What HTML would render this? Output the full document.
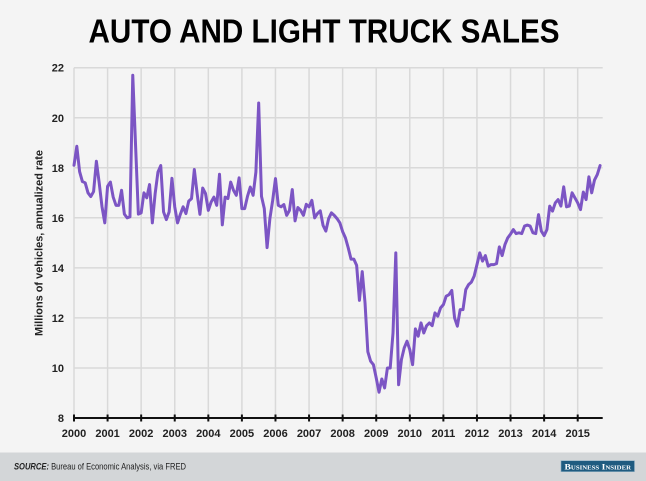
<!DOCTYPE html>
<html>
<head>
<meta charset="utf-8">
<style>
  html,body{margin:0;padding:0;background:#f4f4f4;}
  body{width:646px;height:481px;overflow:hidden;}
  svg{display:block;}
  text{font-family:"Liberation Sans",sans-serif;}
</style>
</head>
<body>
<svg width="646" height="481" viewBox="0 0 646 481" xmlns="http://www.w3.org/2000/svg">
  <rect x="0" y="0" width="646" height="481" fill="#f4f4f4"/>

  <!-- Title -->
  <text x="88.5" y="42.3" font-size="33.5" font-weight="bold" fill="#000" textLength="471" lengthAdjust="spacingAndGlyphs">AUTO AND LIGHT TRUCK SALES</text>

  <!-- Horizontal gridlines -->
  <g stroke="#d9d9d9" stroke-width="1.5">
    <line x1="74" y1="67.7" x2="602.7" y2="67.7"/>
    <line x1="74" y1="117.8" x2="602.7" y2="117.8"/>
    <line x1="74" y1="167.8" x2="602.7" y2="167.8"/>
    <line x1="74" y1="217.8" x2="602.7" y2="217.8"/>
    <line x1="74" y1="267.9" x2="602.7" y2="267.9"/>
    <line x1="74" y1="317.9" x2="602.7" y2="317.9"/>
    <line x1="74" y1="368" x2="602.7" y2="368"/>
  </g>
  <!-- Vertical gridlines -->
  <g stroke="#d9d9d9" stroke-width="1.5">
    <line x1="74" y1="67.7" x2="74" y2="418"/>
    <line x1="107.58" y1="67.7" x2="107.58" y2="418"/>
    <line x1="141.16" y1="67.7" x2="141.16" y2="418"/>
    <line x1="174.74" y1="67.7" x2="174.74" y2="418"/>
    <line x1="208.32" y1="67.7" x2="208.32" y2="418"/>
    <line x1="241.9" y1="67.7" x2="241.9" y2="418"/>
    <line x1="275.48" y1="67.7" x2="275.48" y2="418"/>
    <line x1="309.06" y1="67.7" x2="309.06" y2="418"/>
    <line x1="342.64" y1="67.7" x2="342.64" y2="418"/>
    <line x1="376.22" y1="67.7" x2="376.22" y2="418"/>
    <line x1="409.8" y1="67.7" x2="409.8" y2="418"/>
    <line x1="443.38" y1="67.7" x2="443.38" y2="418"/>
    <line x1="476.96" y1="67.7" x2="476.96" y2="418"/>
    <line x1="510.54" y1="67.7" x2="510.54" y2="418"/>
    <line x1="544.12" y1="67.7" x2="544.12" y2="418"/>
    <line x1="577.7" y1="67.7" x2="577.7" y2="418"/>
  </g>

  <!-- Y tick labels -->
  <g font-size="11" font-weight="bold" fill="#222" text-anchor="end">
    <text x="64" y="71.7">22</text>
    <text x="64" y="121.8">20</text>
    <text x="64" y="171.8">18</text>
    <text x="64" y="221.8">16</text>
    <text x="64" y="271.9">14</text>
    <text x="64" y="321.9">12</text>
    <text x="64" y="372">10</text>
    <text x="64" y="422">8</text>
  </g>

  <!-- Y axis title -->
  <text transform="translate(42.5,243) rotate(-90)" font-size="11" font-weight="bold" fill="#222" text-anchor="middle" textLength="186" lengthAdjust="spacingAndGlyphs">Millions of vehicles, annualized rate</text>

  <!-- Data line -->
  <g transform="matrix(2.79833 0 0 -25.02 74 618.16)">
    <polyline fill="none" stroke="#7c55c4" stroke-width="3" stroke-linejoin="round" stroke-linecap="round" vector-effect="non-scaling-stroke"
      points="0,18.1 1,18.86 2,17.85 3,17.45 4,17.4 5,17.0 6,16.85 7,17.05 8,18.26 9,17.4 10,16.45 11,15.8
      12,17.26 13,17.43 14,16.83 15,16.5 16,16.5 17,17.1 18,16.15 19,16.0 20,16.04 21,21.7 22,18.9 23,16.15
      24,16.2 25,17.0 26,16.8 27,17.33 28,15.8 29,16.97 30,17.83 31,18.09 32,16.24 33,15.93 34,16.24 35,17.58
      36,16.44 37,15.8 38,16.14 39,16.44 40,16.17 41,16.67 42,16.77 43,17.93 44,16.97 45,16.14 46,17.19 47,16.97
      48,16.3 49,16.63 50,16.83 51,16.5 52,17.74 53,15.72 54,16.83 55,16.77 56,17.43 57,17.1 58,16.9 59,17.6
      60,16.37 61,16.37 62,16.86 63,17.23 64,16.9 65,17.83 66,20.59 67,16.86 68,16.37 69,14.81 70,15.97 71,16.7
      72,17.57 73,16.5 74,16.44 75,16.53 76,16.1 77,16.3 78,17.13 79,15.88 80,16.41 81,16.3 82,16.1 83,16.54
      84,16.44 85,16.7 86,16.0 87,16.17 88,16.28 89,15.7 90,15.47 91,15.97 92,16.2 93,16.1 94,15.97 95,15.8
      96,15.45 97,15.2 98,14.8 99,14.35 100,14.35 101,14.1 102,12.7 103,13.85 104,12.6 105,10.65 106,10.27 107,10.13
      108,9.6 109,9.03 110,9.56 111,9.2 112,10.0 113,10.0 114,11.4 115,14.6 116,9.33 117,10.33 118,10.8 119,11.07
      120,10.73 121,10.13 122,11.56 123,11.27 124,11.8 125,11.4 126,11.69 127,11.8 128,11.69 129,12.2 130,12.07 131,12.4
      132,12.53 133,12.87 134,12.93 135,13.1 136,12.0 137,11.67 138,12.33 139,12.33 140,13.13 141,13.33 142,13.43 143,13.67
      144,14.13 145,14.6 146,14.27 147,14.49 148,14.07 149,14.13 150,14.13 151,14.17 152,14.84 153,14.49 154,14.93 155,15.2
      156,15.35 157,15.53 158,15.37 159,15.4 160,15.37 161,15.67 162,15.71 163,15.67 164,15.4 165,15.37 166,16.13 167,15.47
      168,15.29 169,15.53 170,16.47 171,16.27 172,16.6 173,16.73 174,16.47 175,17.24 176,16.44 177,16.47 178,17.0 179,16.8
      180,16.6 181,16.33 182,17.03 183,16.73 184,17.64 185,17.0 186,17.51 187,17.73 188,18.09"/>
  </g>

  <!-- X axis -->
  <line x1="74" y1="418" x2="602.7" y2="418" stroke="#111" stroke-width="2"/>
  <g stroke="#111" stroke-width="2">
    <line x1="74" y1="414.5" x2="74" y2="421.5"/>
    <line x1="107.58" y1="414.5" x2="107.58" y2="421.5"/>
    <line x1="141.16" y1="414.5" x2="141.16" y2="421.5"/>
    <line x1="174.74" y1="414.5" x2="174.74" y2="421.5"/>
    <line x1="208.32" y1="414.5" x2="208.32" y2="421.5"/>
    <line x1="241.9" y1="414.5" x2="241.9" y2="421.5"/>
    <line x1="275.48" y1="414.5" x2="275.48" y2="421.5"/>
    <line x1="309.06" y1="414.5" x2="309.06" y2="421.5"/>
    <line x1="342.64" y1="414.5" x2="342.64" y2="421.5"/>
    <line x1="376.22" y1="414.5" x2="376.22" y2="421.5"/>
    <line x1="409.8" y1="414.5" x2="409.8" y2="421.5"/>
    <line x1="443.38" y1="414.5" x2="443.38" y2="421.5"/>
    <line x1="476.96" y1="414.5" x2="476.96" y2="421.5"/>
    <line x1="510.54" y1="414.5" x2="510.54" y2="421.5"/>
    <line x1="544.12" y1="414.5" x2="544.12" y2="421.5"/>
    <line x1="577.7" y1="414.5" x2="577.7" y2="421.5"/>
  </g>

  <!-- X tick labels -->
  <g font-size="11" font-weight="bold" fill="#222" text-anchor="middle">
    <text x="74" y="437">2000</text>
    <text x="107.58" y="437">2001</text>
    <text x="141.16" y="437">2002</text>
    <text x="174.74" y="437">2003</text>
    <text x="208.32" y="437">2004</text>
    <text x="241.9" y="437">2005</text>
    <text x="275.48" y="437">2006</text>
    <text x="309.06" y="437">2007</text>
    <text x="342.64" y="437">2008</text>
    <text x="376.22" y="437">2009</text>
    <text x="409.8" y="437">2010</text>
    <text x="443.38" y="437">2011</text>
    <text x="476.96" y="437">2012</text>
    <text x="510.54" y="437">2013</text>
    <text x="544.12" y="437">2014</text>
    <text x="577.7" y="437">2015</text>
  </g>

  <!-- Footer -->
  <rect x="0" y="452.5" width="646" height="28.5" fill="#d3d6d8"/>
  <text x="14" y="469.3" font-size="9" fill="#222" textLength="172" lengthAdjust="spacingAndGlyphs"><tspan font-weight="bold" font-style="italic">SOURCE:</tspan> Bureau of Economic Analysis, via FRED</text>

  <!-- Business Insider logo -->
  <rect x="561" y="460.7" width="73.5" height="11" fill="#1f5b80" stroke="#8fb0c4" stroke-width="0.6"/>
  <text x="564.5" y="469.6" font-family="Liberation Serif, serif" font-size="8.5" font-weight="bold" fill="#ffffff" font-variant="small-caps" textLength="66.5" lengthAdjust="spacingAndGlyphs" style="font-family:'Liberation Serif',serif;">Business Insider</text>
</svg>
</body>
</html>
